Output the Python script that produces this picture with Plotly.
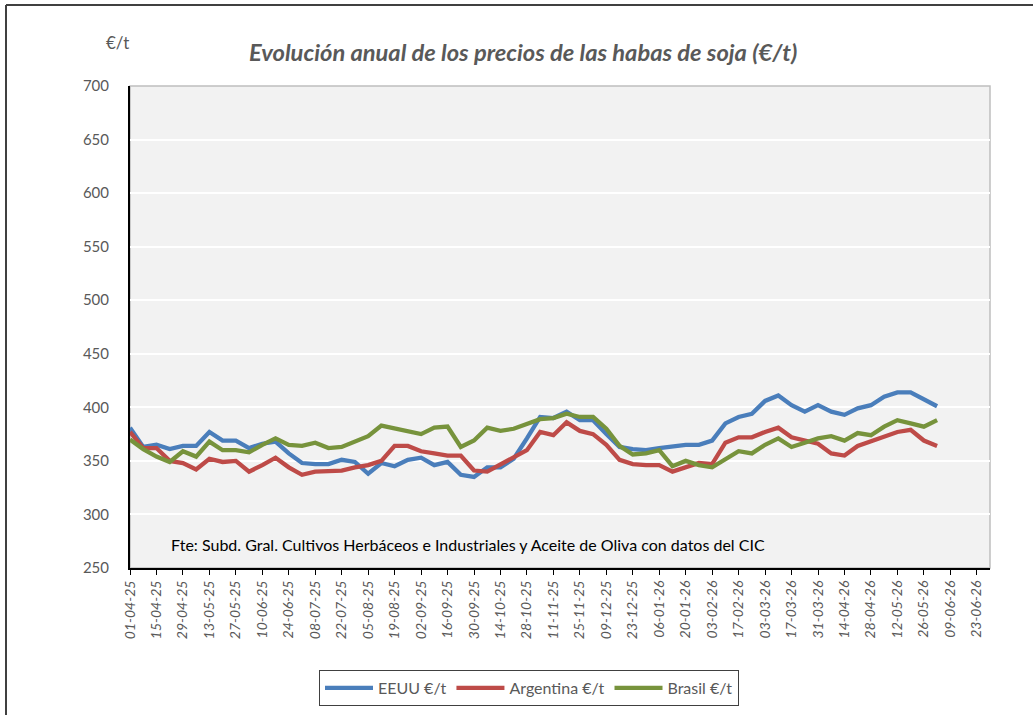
import pandas as pd
import plotly.graph_objects as go

start_date = "2025-04-01"
n_weeks = 62
dates = pd.date_range(start_date, periods=n_weeks, freq="7D")

eeuu = [381, 363, 365, 361, 364, 364, 377, 369, 369, 362, 366, 368, 357, 348, 347, 347,
        351, 349, 338, 348, 345, 351, 353, 346, 349, 337, 335, 344, 344, 352, 371, 391,
        390, 396, 388, 388, 375, 363, 361, 360, 362, 364, 365, 365, 369, 385, 391, 394,
        406, 411, 402, 396, 402, 396, 393, 399, 402, 410, 414, 414, 408, 401]
argentina = [377, 362, 362, 350, 348, 342, 352, 349, 350, 340, 346, 353, 344, 337, 340, 341,
             341, 344, 346, 350, 364, 364, 359, 357, 355, 355, 341, 340, 347, 354, 360, 377,
             374, 386, 378, 375, 365, 351, 347, 346, 346, 340, 344, 348, 347, 367, 372, 372,
             377, 381, 372, 369, 366, 357, 355, 364, 368, 372, 377, 379, 369, 364]
brasil = [370, 361, 354, 349, 359, 354, 368, 360, 360, 358, 365, 371, 365, 364, 367, 362,
          363, 368, 373, 383, 380, 377, 375, 381, 382, 363, 369, 381, 378, 380, 385, 389,
          390, 394, 391, 391, 380, 364, 356, 357, 360, 345, 350, 346, 344, 352, 359, 357,
          365, 371, 363, 367, 371, 373, 369, 376, 374, 382, 388, 385, 382, 388]

series_names = ["EEUU €/t", "Argentina €/t", "Brasil €/t"]
series_colors = ["#4A7EBB", "#BE4B48", "#77933C"]

title_text = "Evolución anual de los precios de las habas de soja (€/t)"
unit_text = "€/t"
source_text = "Fte: Subd. Gral. Cultivos Herbáceos e Industriales y Aceite de Oliva con datos del CIC"

FONT = "Lato"

fig = go.Figure()
for name, vals, col in zip(series_names, [eeuu, argentina, brasil], series_colors):
    fig.add_trace(go.Scatter(x=dates, y=vals, mode="lines", name=name,
                             line=dict(color=col, width=4.3)))

W, H = 1033, 715
L, R, T, B = 130, 990, 86, 568


def px(x):
    return (x - L) / (R - L)


def py(y):
    return (B - y) / (B - T)


fig.update_layout(
    width=W, height=H,
    margin=dict(l=L, r=W - R, t=T, b=H - B, autoexpand=False),
    paper_bgcolor="white",
    plot_bgcolor="#F2F2F2",
    font=dict(family=FONT, color="#595959", size=14),
    showlegend=True,
    legend=dict(orientation="h", x=px(529), xanchor="center",
                y=py(670), yanchor="top",
                bordercolor="#404040", borderwidth=1,
                font=dict(family=FONT, size=16, color="#595959"),
                itemwidth=48),
    xaxis=dict(type="date", range=["2025-04-01", "2026-06-30"],
               tick0="2025-04-01", dtick=14 * 86400000, tickformat="%d-%m-%y",
               tickangle=-90, ticks="outside", ticklen=5, tickcolor="black",
               tickfont=dict(family=FONT, size=14, color="#595959", style="italic"),
               showgrid=False, showline=True, linecolor="black", linewidth=2,
               zeroline=False),
    yaxis=dict(range=[250, 700], dtick=50, tick0=250,
               showgrid=True, gridcolor="white", gridwidth=2,
               showline=True, linecolor="black", linewidth=2,
               ticks="", ticklabelstandoff=16,
               tickfont=dict(family=FONT, size=15, color="#595959"),
               zeroline=False),
    annotations=[
        dict(text=title_text, xref="paper", yref="paper",
             x=px(523), y=py(52), xanchor="center", yanchor="middle",
             showarrow=False,
             font=dict(family=FONT, size=23.7, color="#595959", weight="bold", style="italic")),
        dict(text=unit_text, xref="paper", yref="paper",
             x=px(117), y=py(42), xanchor="center", yanchor="middle",
             showarrow=False, font=dict(family=FONT, size=17, color="#595959")),
        dict(text=source_text, xref="paper", yref="paper",
             x=px(169), y=py(544), xanchor="left", yanchor="middle",
             showarrow=False, font=dict(family=FONT, size=16, color="black")),
    ],
    shapes=[
        dict(type="rect", xref="paper", yref="paper", x0=0, x1=1, y0=0, y1=1,
             line=dict(color="#BFBFBF", width=1.5), fillcolor="rgba(0,0,0,0)", layer="below"),
        dict(type="line", xref="paper", yref="paper",
             x0=px(6), x1=px(W), y0=py(5), y1=py(5),
             line=dict(color="#404040", width=2)),
        dict(type="line", xref="paper", yref="paper",
             x0=px(6), x1=px(6), y0=py(5), y1=py(H),
             line=dict(color="#404040", width=2)),
    ],
)

fig.write_html("out.html", config={"displayModeBar": False},
               post_script="document.body.style.margin='0';")
